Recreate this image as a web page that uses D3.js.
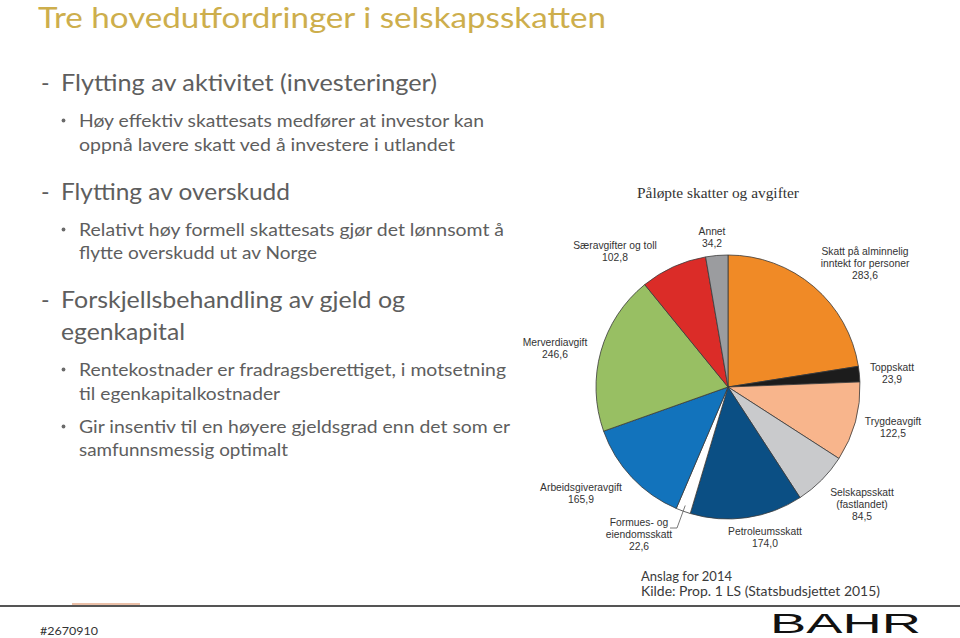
<!DOCTYPE html>
<html>
<head>
<meta charset="utf-8">
<script src="https://cdn.jsdelivr.net/npm/d3@7"></script>
<style>
  html, body { margin: 0; padding: 0; background: #fff; }
  svg { display: block; }
</style>
</head>
<body>
<svg id="chart" width="960" height="638"></svg>
<script>
// ---------- data ----------
const categories = ["Skatt på alminnelig inntekt for personer", "Toppskatt", "Trygdeavgift",
  "Selskapsskatt (fastlandet)", "Petroleumsskatt", "Formues- og eiendomsskatt",
  "Arbeidsgiveravgift", "Merverdiavgift", "Særavgifter og toll", "Annet"];
const values = [283.6, 23.9, 122.5, 84.5, 174.0, 22.6, 165.9, 246.6, 102.8, 34.2];
const labelLines = [["Skatt på alminnelig", "inntekt for personer"], ["Toppskatt"], ["Trygdeavgift"],
  ["Selskapsskatt", "(fastlandet)"], ["Petroleumsskatt"], ["Formues- og", "eiendomsskatt"],
  ["Arbeidsgiveravgift"], ["Merverdiavgift"], ["Særavgifter og toll"], ["Annet"]];
const sliceColors = ["#F08A26", "#1C1C1C", "#F8B58C", "#C9CACC", "#0B4F84",
  "#FFFFFF", "#1273BC", "#98BF63", "#DB2C28", "#9B9C9F"];
// label anchors (centre x, first baseline y)
const labelPos = [[865, 255], [892, 371], [893, 425], [862, 496], [765, 535],
  [639, 526], [581, 491], [555, 346], [615, 249], [712, 235]];

const titleText = "Tre hovedutfordringer i selskapsskatten";
const chartTitle = "Påløpte skatter og avgifter";
const bodyItems = [
  {type: "dash", lines: ["Flytting av aktivitet (investeringer)"], y: [91], w: [376]},
  {type: "bullet", lines: ["Høy effektiv skattesats medfører at investor kan", "oppnå lavere skatt ved å investere i utlandet"], y: [127, 151], w: [405, 376]},
  {type: "dash", lines: ["Flytting av overskudd"], y: [200], w: [229]},
  {type: "bullet", lines: ["Relativt høy formell skattesats gjør det lønnsomt å", "flytte overskudd ut av Norge"], y: [236, 259], w: [425, 238]},
  {type: "dash", lines: ["Forskjellsbehandling av gjeld og", "egenkapital"], y: [308, 340], w: [344, 124]},
  {type: "bullet", lines: ["Rentekostnader er fradragsberettiget, i motsetning", "til egenkapitalkostnader"], y: [376, 400], w: [427, 201]},
  {type: "bullet", lines: ["Gir insentiv til en høyere gjeldsgrad enn det som er", "samfunnsmessig optimalt"], y: [433, 456], w: [431, 209]}
];
const noteLines = ["Anslag for 2014", "Kilde: Prop. 1 LS (Statsbudsjettet 2015)"];
const docId = "#2670910";

// ---------- drawing ----------
const svg = d3.select("#chart");
svg.append("rect").attr("width", 960).attr("height", 638).attr("fill", "#fff");

const slideFont = "Lato, 'Open Sans', sans-serif";
const bodyColor = "#5e5e5e";

svg.append("text")
  .attr("x", 38).attr("y", 28)
  .attr("font-family", slideFont).attr("font-size", 29)
  .attr("fill", "#CDAE4C")
  .attr("textLength", 568).attr("lengthAdjust", "spacingAndGlyphs")
  .text(titleText);

bodyItems.forEach(item => {
  const isDash = item.type === "dash";
  const tx = isDash ? 61 : 79;
  const fs = isDash ? 23 : 16.5;
  if (isDash) {
    svg.append("text").attr("x", 41).attr("y", item.y[0])
      .attr("font-family", slideFont).attr("font-size", fs).attr("fill", bodyColor).text("-");
  } else {
    svg.append("circle").attr("cx", 63.5).attr("cy", item.y[0] - 6.5).attr("r", 1.9)
      .attr("fill", "#6a6a6a");
  }
  item.lines.forEach((ln, i) => {
    svg.append("text").attr("x", tx).attr("y", item.y[i])
      .attr("font-family", slideFont).attr("font-size", fs)
      .attr("fill", bodyColor)
      .attr("textLength", item.w[i]).attr("lengthAdjust", "spacingAndGlyphs")
      .text(ln);
  });
});

// chart title
svg.append("text").attr("x", 637).attr("y", 198)
  .attr("font-family", "'Liberation Serif', 'DejaVu Serif', serif")
  .attr("font-size", 15).attr("fill", "#333")
  .attr("textLength", 162).attr("lengthAdjust", "spacingAndGlyphs")
  .text(chartTitle);

// pie
const cx = 728, cy = 387, R = 132;
const pie = d3.pie().sort(null).value(d => d).startAngle(0).endAngle(2 * Math.PI);
const arc = d3.arc().innerRadius(0).outerRadius(R);
const arcs = pie(values);
const g = svg.append("g").attr("transform", `translate(${cx},${cy})`);
g.selectAll("path").data(arcs).enter().append("path")
  .attr("d", arc)
  .attr("fill", (d, i) => sliceColors[i])
  .attr("stroke", "#3a3a3a").attr("stroke-width", 0.8)
  .attr("stroke-linejoin", "round");

// labels
const fmt = v => d3.format(".1f")(v).replace(".", ",");
const lblFont = "'Liberation Sans', Arial, sans-serif";
values.forEach((v, i) => {
  const [lx, ly] = labelPos[i];
  const lines = labelLines[i].concat([fmt(v)]);
  lines.forEach((ln, j) => {
    svg.append("text").attr("x", lx).attr("y", ly + j * 12.2)
      .attr("text-anchor", "middle")
      .attr("font-family", lblFont).attr("font-size", 10.3)
      .attr("fill", "#333")
      .text(ln);
  });
});

// leader line for the small white slice
const wi = 5;
const wc = d3.arc().innerRadius(R - 6).outerRadius(R - 6).centroid(arcs[wi]);
svg.append("polyline")
  .attr("points", `670,528 677,528 ${cx + wc[0]},${cy + wc[1]}`)
  .attr("fill", "none").attr("stroke", "#555").attr("stroke-width", 0.8);

// notes
noteLines.forEach((t, i) => {
  svg.append("text").attr("x", 641).attr("y", 581 + i * 15)
    .attr("font-family", slideFont).attr("font-size", 12.5).attr("fill", "#3a3a3a")
    .attr("textLength", i === 0 ? 91 : 239).attr("lengthAdjust", "spacingAndGlyphs")
    .text(t);
});

// footer rule
svg.append("line").attr("x1", 0).attr("x2", 960).attr("y1", 606).attr("y2", 606)
  .attr("stroke", "#555").attr("stroke-width", 2);
svg.append("rect").attr("x", 72).attr("y", 603).attr("width", 68).attr("height", 2)
  .attr("fill", "#EBC0A8");

svg.append("text").attr("x", 40).attr("y", 635)
  .attr("font-family", slideFont).attr("font-size", 11).attr("fill", "#333")
  .attr("textLength", 58).attr("lengthAdjust", "spacingAndGlyphs")
  .text(docId);

// logo
svg.append("text").attr("x", 770).attr("y", 633)
  .attr("font-family", "'Liberation Sans', sans-serif").attr("font-size", 27)
  .attr("fill", "#111")
  .attr("textLength", 151).attr("lengthAdjust", "spacingAndGlyphs")
  .text("BAHR");
</script>
</body>
</html>
